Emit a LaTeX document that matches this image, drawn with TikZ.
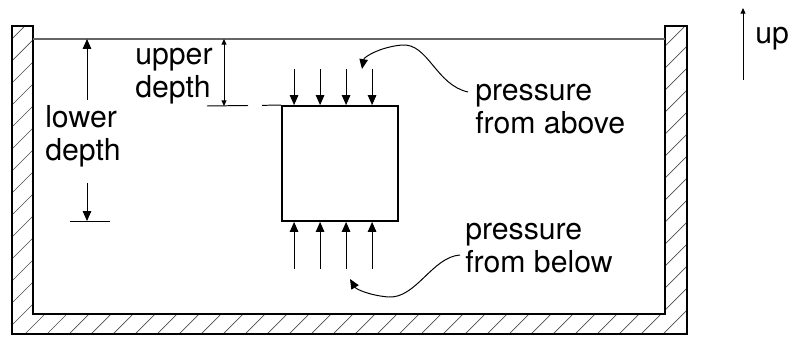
\documentclass[tikz,border=0pt]{standalone}
\usepackage{fontspec}
\setmainfont{TeX Gyre Heros}
\usetikzlibrary{arrows.meta}

\tikzset{
  lbl/.style={inner sep=0pt, align=left, font=\fontsize{21.5}{23.5}\selectfont},
  thinline/.style={line width=0.7pt},
  push/.style={thinline, -{Triangle[length=7pt,width=6pt]}},
  small/.style={thinline, -{Triangle[length=4pt,width=3.5pt]}},
  dimline/.style={thinline, {Triangle[length=4pt,width=3.5pt]}-{Triangle[length=4pt,width=3.5pt]}},
  hatch/.style={line width=0.5pt, black!70},
}

\begin{document}
\begin{tikzpicture}
\useasboundingbox (0,0) rectangle (19.975,8.425);

% tank
\coordinate (otl) at (0.3,7.775);
\coordinate (obl) at (0.3,0.075);
\coordinate (obr) at (17.175,0.075);
\coordinate (otr) at (17.175,7.775);
\coordinate (itr) at (16.625,7.775);
\coordinate (ibr) at (16.625,0.575);
\coordinate (ibl) at (0.825,0.575);
\coordinate (itl) at (0.825,7.775);

\begin{scope}
\clip (otl)--(obl)--(obr)--(otr)--(itr)--(ibr)--(ibl)--(itl)--cycle;
\foreach \k in {-16,...,32}
  \draw[hatch] (\k*0.55,0) -- ++(8.5,8.5);
\end{scope}
\draw[line width=0.9pt] (otl)--(obl)--(obr)--(otr)--(itr)--(ibr)--(ibl)--(itl)--cycle;
\draw[line width=1.3pt] (ibl)--(ibr);

% water surface
\coordinate (wl) at (0.825,7.45);
\coordinate (wr) at (16.625,7.45);
\draw[black!60, line width=1.3pt] (wl)--(wr);

% block and pressure
\node[draw, line width=1.3pt, minimum width=2.9cm, minimum height=2.875cm, inner sep=0pt] (block) at (8.5,4.3375) {};

\foreach \dx [count=\i] in {0.325,0.975,1.625,2.275}{
  \coordinate (a\i) at ([xshift=\dx cm]block.north west);
  \coordinate (as\i) at ([yshift=0.9cm]a\i);
  \draw[push] (as\i) -- (a\i);
  \coordinate (b\i) at ([xshift=\dx cm]block.south west);
  \coordinate (bs\i) at ([yshift=-1.175cm]b\i);
  \draw[push] (bs\i) -- (b\i);
}

% upper depth
\coordinate (ut) at (5.6,7.45);
\coordinate (ub) at (5.6,5.775);
\draw[dimline] (ut) -- (ub);
\coordinate (ul) at (5.175,5.775);
\draw[thinline, dash pattern=on 1.025cm off 0.35cm] (ul) -- (block.north west);
\node[lbl, anchor=west] (upper) at (3.375,6.525) {upper\\depth};

% lower depth
\coordinate (lt) at (2.175,7.45);
\coordinate (lm1) at (2.175,5.925);
\coordinate (lm2) at (2.175,3.85);
\coordinate (lb) at (2.175,2.9);
\draw[push] (lm1) -- (lt);
\draw[push] (lm2) -- (lb);
\coordinate (ll) at (1.75,2.9);
\coordinate (lr) at (2.75,2.9);
\draw[thinline] (ll) -- (lr);
\node[lbl, anchor=west] (lower) at (1.125,5.025) {lower\\depth};

% labels with callouts
\node[lbl, anchor=west] (above) at (11.875,5.6875) {pressure\\from above};
\node[lbl, anchor=west] (below) at (11.625,2.225) {pressure\\from below};

\coordinate (ca) at (11.7,6.125);
\coordinate (cat) at (9.05,6.7);
\draw[push] (ca) .. controls (10.9,6.3) and (10.7,7.35) .. (10.05,7.3)
  .. controls (9.5,7.25) and (9.1,7.0) .. (cat);

\coordinate (cb) at (11.5,2.05);
\coordinate (cbt) at (8.75,1.45);
\draw[push] (cb) .. controls (10.8,2.0) and (10.4,0.95) .. (9.7,1.0)
  .. controls (9.2,1.05) and (8.9,1.2) .. (cbt);

% up
\coordinate (upb) at (18.575,6.425);
\coordinate (upt) at (18.575,8.225);
\draw[small] (upb) -- (upt);
\node[lbl, anchor=west] (up) at (18.875,7.45) {up};
\end{tikzpicture}
\end{document}
